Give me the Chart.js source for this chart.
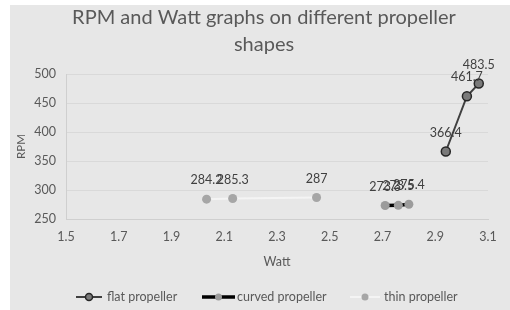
<!DOCTYPE html>
<html><head><meta charset="utf-8">
<script src="https://cdn.jsdelivr.net/npm/chart.js@4"></script>
<style>html,body{margin:0;padding:0;background:#fff}#wrap{width:510px;height:310px}</style>
</head><body><div id="wrap"><canvas id="c" width="510" height="310"></canvas></div>
<script>
const flatWatt = [2.94, 3.02, 3.065];
const flatRpm = [366.4, 461.7, 483.5];
const curvedWatt = [2.71, 2.76, 2.80];
const curvedRpm = [273.3, 273.5, 275.4];
const thinWatt = [2.033, 2.132, 2.45];
const thinRpm = [284.2, 285.3, 287];
const seriesNames = ['flat propeller', 'curved propeller', 'thin propeller'];
const titleLines = ['RPM and Watt graphs on different propeller', 'shapes'];
const xTicks = [1.5, 1.7, 1.9, 2.1, 2.3, 2.5, 2.7, 2.9, 3.1];
const yTicks = [250, 300, 350, 400, 450, 500];

const FONT = 'Lato, "Open Sans", sans-serif';
const TXT = '#595959';
const pts = (xs, ys) => xs.map((x, i) => ({x, y: ys[i]}));

const bgPlugin = {
  id: 'bg',
  beforeDraw(chart) {
    const c = chart.ctx;
    c.save();
    c.fillStyle = '#ffffff';
    c.fillRect(0, 0, chart.width, chart.height);
    c.fillStyle = '#e7e7e7';
    c.fillRect(10, 5, chart.width - 10, chart.height - 5);
    c.restore();
  }
};

const titlePlugin = {
  id: 'ctitle',
  afterDraw(chart) {
    const c = chart.ctx;
    c.save();
    c.font = '20px ' + FONT;
    c.fillStyle = TXT;
    c.textAlign = 'center';
    c.textBaseline = 'middle';
    c.fillText(titleLines[0], 264, 18);
    c.fillText(titleLines[1], 264, 45);
    c.restore();
  }
};

const labelPlugin = {
  id: 'dlabels',
  afterDatasetsDraw(chart) {
    const c = chart.ctx;
    c.save();
    c.font = '12.5px ' + FONT;
    c.fillStyle = '#404040';
    c.textAlign = 'center';
    c.textBaseline = 'middle';
    chart.data.datasets.forEach((ds, i) => {
      const meta = chart.getDatasetMeta(i);
      meta.data.forEach((el, j) => {
        c.fillText(String(ds.data[j].y), el.x, el.y - 19);
      });
    });
    c.restore();
  }
};

const legendPlugin = {
  id: 'clegend',
  afterDraw(chart) {
    const c = chart.ctx;
    const y = 297;
    const items = [
      {x0: 76, x1: 102, tx: 107},
      {x0: 202, x1: 235, tx: 237},
      {x0: 350, x1: 380, tx: 384}
    ];
    c.save();
    c.font = '12.5px ' + FONT;
    c.textBaseline = 'middle';
    c.textAlign = 'left';
    chart.data.datasets.forEach((ds, i) => {
      const it = items[i];
      c.strokeStyle = ds.borderColor;
      c.lineWidth = ds.borderWidth;
      c.beginPath(); c.moveTo(it.x0, y); c.lineTo(it.x1, y); c.stroke();
      c.beginPath();
      c.arc((it.x0 + it.x1) / 2, y, 3.5, 0, Math.PI * 2);
      c.fillStyle = ds.pointBackgroundColor;
      c.fill();
      if (ds.pointBorderWidth > 0) {
        c.lineWidth = ds.pointBorderWidth;
        c.strokeStyle = ds.pointBorderColor;
        c.stroke();
      }
      c.fillStyle = TXT;
      c.fillText(ds.label, it.tx, y);
    });
    c.restore();
  }
};

new Chart(document.getElementById('c'), {
  type: 'scatter',
  data: {
    datasets: [
      {label: seriesNames[0], data: pts(flatWatt, flatRpm), showLine: true,
       borderColor: '#404040', borderWidth: 2, pointRadius: 4.5,
       pointBackgroundColor: '#7a7a7a', pointBorderColor: '#262626', pointBorderWidth: 1.5},
      {label: seriesNames[1], data: pts(curvedWatt, curvedRpm), showLine: true,
       borderColor: '#000000', borderWidth: 3.5, pointRadius: 4.5,
       pointBackgroundColor: '#9c9c9c', pointBorderColor: '#9c9c9c', pointBorderWidth: 0},
      {label: seriesNames[2], data: pts(thinWatt, thinRpm), showLine: true,
       borderColor: '#f4f4f4', borderWidth: 2, pointRadius: 4.5,
       pointBackgroundColor: '#a6a6a6', pointBorderColor: '#a6a6a6', pointBorderWidth: 0}
    ]
  },
  options: {
    responsive: false,
    animation: false,
    devicePixelRatio: 1,
    layout: {padding: {left: 14, right: 22, top: 74, bottom: 37}},
    plugins: {
      legend: {display: false},
      tooltip: {enabled: false},
      title: {display: false}
    },
    scales: {
      x: {
        type: 'linear', min: 1.5, max: 3.1,
        afterBuildTicks(s) { s.ticks = xTicks.map(v => ({value: v})); },
        afterFit(s) { s.height = 54; },
        ticks: {color: TXT, font: {family: FONT, size: 12.5}, padding: 10,
                callback: v => Number(v).toFixed(1)},
        grid: {display: false, drawTicks: false},
        border: {display: true, color: '#cfcfcf', width: 1},
        title: {display: true, text: 'Watt', color: TXT, font: {family: FONT, size: 12.5}, padding: {top: 8}}
      },
      y: {
        min: 250, max: 500,
        afterBuildTicks(s) { s.ticks = yTicks.map(v => ({value: v})); },
        afterFit(s) { s.width = 52; },
        ticks: {color: TXT, font: {family: FONT, size: 12.5}, padding: 10},
        grid: {color: '#d9d9d9', drawTicks: false},
        border: {display: true, color: '#cfcfcf', width: 1},
        title: {display: true, text: 'RPM', color: TXT, font: {family: FONT, size: 11.5}, padding: 0}
      }
    }
  },
  plugins: [bgPlugin, titlePlugin, labelPlugin, legendPlugin]
});
</script></body></html>
